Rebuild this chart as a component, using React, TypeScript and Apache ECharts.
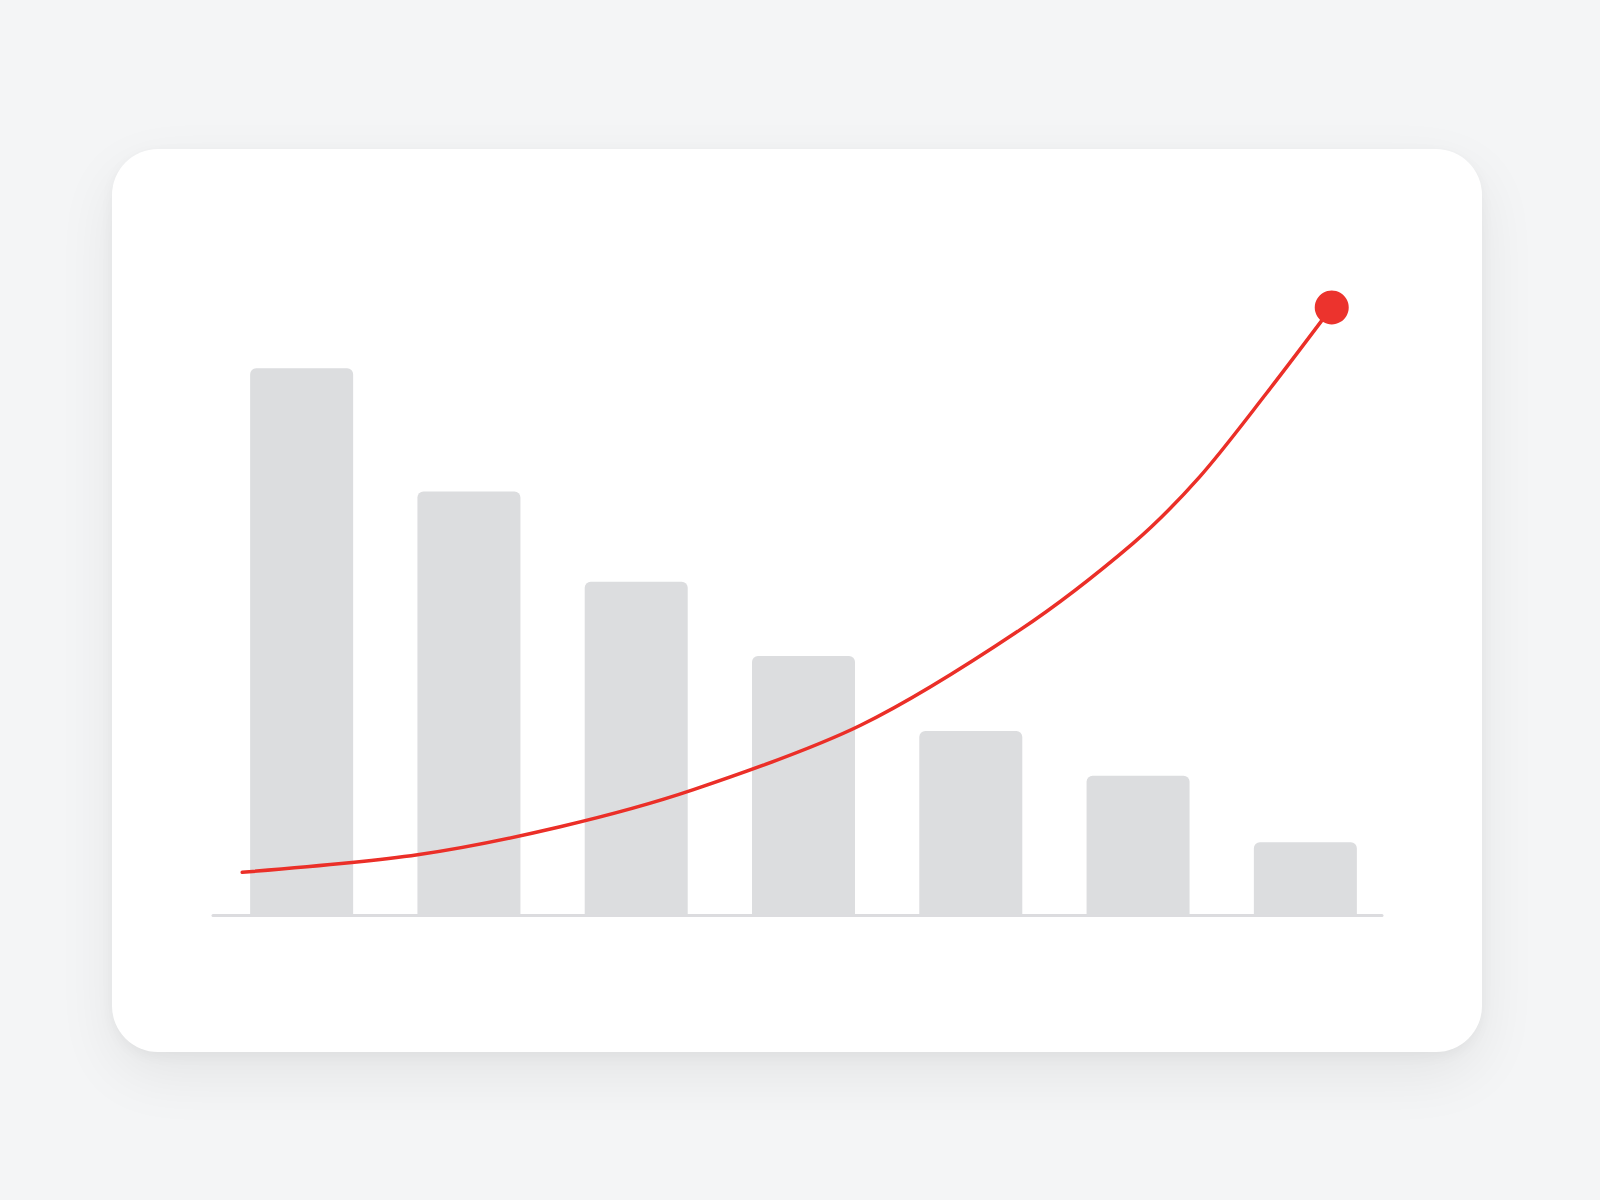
import React, { useEffect, useRef } from 'react';
import * as echarts from 'echarts';

const COLORS = {
  PAGE_BG: '#f4f5f6',
  CARD_BG: '#ffffff',
  BAR: '#dcdddf',
  AXIS: '#dcdcdf',
  LINE: '#eb2f28',
  DOT: '#ec332d',
};

// bars (category axis)
const categories = ['1', '2', '3', '4', '5', '6', '7'];
const barValues = [78.1, 60.5, 47.6, 37.0, 26.3, 19.9, 10.4];

// curve on its own 0..100 value x axis
const curveX = [2.5, 17.5, 29.7, 41.1, 55.4, 69.0, 78.7, 84.4, 90.1, 95.7];
const curveY = [6.1, 8.6, 12.6, 17.9, 27.1, 40.7, 53.1, 62.6, 74.5, 86.8];

const Y_MAX = 100;

const App: React.FC = () => {
  const divEL = useRef(null);

  const curve = curveX.map((x, i) => [x, curveY[i]]);
  const last = curve[curve.length - 1];

  const option: echarts.EChartsOption = {
    animation: false,
    grid: [
      { left: 218, width: 1171, top: 215, height: 700 },
      { left: 213, width: 1169, top: 215, height: 700 },
    ],
    xAxis: [
      {
        type: 'category',
        gridIndex: 0,
        data: categories,
        show: false,
      },
      {
        type: 'value',
        gridIndex: 1,
        min: 0,
        max: 100,
        axisLine: { show: true, onZero: false, lineStyle: { color: COLORS.AXIS, width: 3 } },
        axisTick: { show: false },
        axisLabel: { show: false },
        splitLine: { show: false },
      },
    ],
    yAxis: [
      { type: 'value', gridIndex: 0, min: 0, max: Y_MAX, show: false },
      { type: 'value', gridIndex: 1, min: 0, max: Y_MAX, show: false },
    ],
    series: [
      {
        type: 'bar',
        xAxisIndex: 0,
        yAxisIndex: 0,
        data: barValues,
        barWidth: 103,
        itemStyle: { color: COLORS.BAR, borderRadius: [6, 6, 0, 0] },
        silent: true,
        z: 1,
      },
      {
        type: 'line',
        xAxisIndex: 1,
        yAxisIndex: 1,
        data: curve,
        smooth: 0.3,
        symbol: 'none',
        lineStyle: { color: COLORS.LINE, width: 3.5, cap: 'round' },
        silent: true,
        z: 3,
      },
      {
        type: 'scatter',
        xAxisIndex: 1,
        yAxisIndex: 1,
        data: [last],
        symbolSize: 34,
        itemStyle: { color: COLORS.DOT, opacity: 1 },
        silent: true,
        z: 4,
      },
    ],
  };

  useEffect(() => {
    const instance = echarts.init(divEL.current as any, null, { renderer: 'svg' });
    instance.setOption(option);
    return () => {
      instance.dispose();
    };
  }, []);

  return (
    <div style={{ position: 'fixed', left: 0, top: 0, width: 1600, height: 1200, background: COLORS.PAGE_BG }}>
      <div
        style={{
          position: 'absolute',
          left: 112,
          top: 149,
          width: 1370,
          height: 903,
          borderRadius: 46,
          background: COLORS.CARD_BG,
          boxShadow: '0 22px 60px rgba(0,0,0,0.07), 0 4px 14px rgba(0,0,0,0.04)',
        }}
      />
      <div ref={divEL} style={{ position: 'absolute', left: 0, top: 0, width: 1600, height: 1200 }}></div>
    </div>
  );
};

export default App;
